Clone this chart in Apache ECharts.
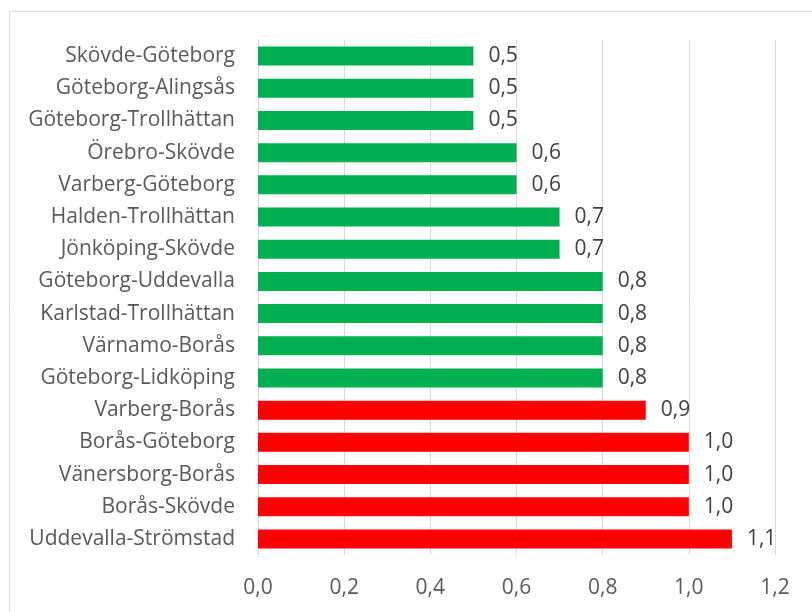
<!DOCTYPE html>
<html>
<head>
<meta charset="utf-8">
<script src="https://cdn.jsdelivr.net/npm/echarts@6/dist/echarts.min.js"></script>
<style>
  html, body { margin: 0; padding: 0; background: #fff; }
  #chart { width: 812px; height: 612px; }
</style>
</head>
<body>
<div id="chart"></div>
<script>
// Routes, listed top to bottom
const routes = [
  'Skövde-Göteborg', 'Göteborg-Alingsås', 'Göteborg-Trollhättan', 'Örebro-Skövde',
  'Varberg-Göteborg', 'Halden-Trollhättan', 'Jönköping-Skövde', 'Göteborg-Uddevalla',
  'Karlstad-Trollhättan', 'Värnamo-Borås', 'Göteborg-Lidköping', 'Varberg-Borås',
  'Borås-Göteborg', 'Vänersborg-Borås', 'Borås-Skövde', 'Uddevalla-Strömstad'
];
const values = [0.5, 0.5, 0.5, 0.6, 0.6, 0.7, 0.7, 0.8, 0.8, 0.8, 0.8, 0.9, 1.0, 1.0, 1.0, 1.1];
const threshold = 0.85; // values above this are drawn red

const fmt = v => v.toFixed(1).replace('.', ',');
const FONT = 'Open Sans';

const chart = echarts.init(document.getElementById('chart'));
chart.setOption({
  animation: false,
  textStyle: { fontFamily: FONT },
  graphic: [
    { type: 'line', shape: { x1: 10, y1: 11.5, x2: 812, y2: 11.5 }, style: { stroke: '#d9d9d9', lineWidth: 1 } },
    { type: 'line', shape: { x1: 9.5, y1: 11, x2: 9.5, y2: 612 }, style: { stroke: '#d9d9d9', lineWidth: 1 } }
  ],
  grid: { left: 258, right: 37, top: 40, bottom: 57, containLabel: false },
  xAxis: {
    type: 'value', min: 0, max: 1.2, interval: 0.2,
    axisLine: { show: false }, axisTick: { show: false },
    splitLine: { show: true, lineStyle: { color: '#d9d9d9', width: 1 } },
    axisLabel: { formatter: v => fmt(v), color: '#595959', fontSize: 21, margin: 23, fontFamily: FONT }
  },
  yAxis: {
    type: 'category', data: routes, inverse: true,
    axisLine: { show: true, lineStyle: { color: '#d9d9d9' } },
    axisTick: { show: false },
    axisLabel: { color: '#595959', fontSize: 21, margin: 23, fontFamily: FONT }
  },
  series: [{
    type: 'bar',
    data: values.map(v => ({ value: v, itemStyle: { color: v > threshold ? '#ff0000' : '#00b050' } })),
    barWidth: '59%',
    label: {
      show: true, position: 'right', distance: 15,
      formatter: p => fmt(p.value), color: '#404040', fontSize: 21, fontFamily: FONT
    }
  }]
});
</script>
</body>
</html>
